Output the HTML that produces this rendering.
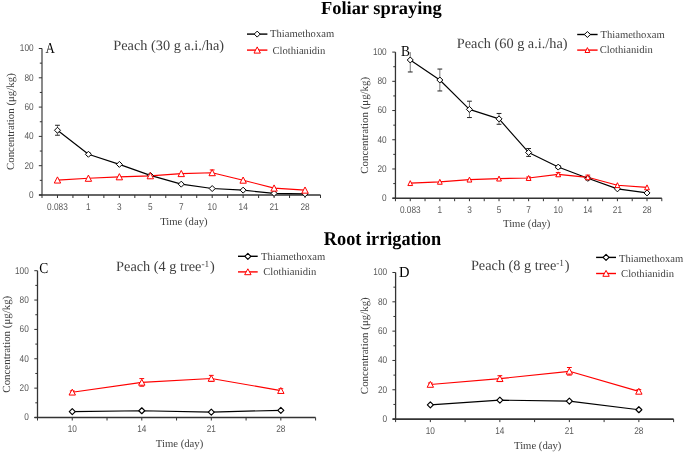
<!DOCTYPE html>
<html><head><meta charset="utf-8"><style>
html,body{margin:0;padding:0;background:#fff;overflow:hidden;}
svg{display:block;will-change:transform;text-rendering:geometricPrecision;}
</style></head><body>
<svg width="685" height="454" viewBox="0 0 685 454">
<rect width="685" height="454" fill="#fff"/>
<text x="321.0" y="14.2" font-family='"Liberation Serif", serif' font-weight="bold" font-size="18.4" fill="#000">Foliar spraying</text>
<text transform="translate(323.8,244.7) scale(1.005,1.07)" font-family='"Liberation Serif", serif' font-weight="bold" font-size="18.2" fill="#000">Root irrigation</text>
<line x1="38.80" y1="195.00" x2="42.00" y2="195.00" stroke="#333" stroke-width="1"/>
<text x="33.60" y="197.90" text-anchor="end" font-family='"Liberation Sans", sans-serif' font-size="9.8" textLength="4.60" lengthAdjust="spacingAndGlyphs" fill="#595959">0</text>
<line x1="39.80" y1="180.35" x2="42.00" y2="180.35" stroke="#333" stroke-width="1"/>
<line x1="38.80" y1="165.70" x2="42.00" y2="165.70" stroke="#333" stroke-width="1"/>
<text x="33.60" y="168.60" text-anchor="end" font-family='"Liberation Sans", sans-serif' font-size="9.8" textLength="9.20" lengthAdjust="spacingAndGlyphs" fill="#595959">20</text>
<line x1="39.80" y1="151.05" x2="42.00" y2="151.05" stroke="#333" stroke-width="1"/>
<line x1="38.80" y1="136.40" x2="42.00" y2="136.40" stroke="#333" stroke-width="1"/>
<text x="33.60" y="139.30" text-anchor="end" font-family='"Liberation Sans", sans-serif' font-size="9.8" textLength="9.20" lengthAdjust="spacingAndGlyphs" fill="#595959">40</text>
<line x1="39.80" y1="121.75" x2="42.00" y2="121.75" stroke="#333" stroke-width="1"/>
<line x1="38.80" y1="107.10" x2="42.00" y2="107.10" stroke="#333" stroke-width="1"/>
<text x="33.60" y="110.00" text-anchor="end" font-family='"Liberation Sans", sans-serif' font-size="9.8" textLength="9.20" lengthAdjust="spacingAndGlyphs" fill="#595959">60</text>
<line x1="39.80" y1="92.45" x2="42.00" y2="92.45" stroke="#333" stroke-width="1"/>
<line x1="38.80" y1="77.80" x2="42.00" y2="77.80" stroke="#333" stroke-width="1"/>
<text x="33.60" y="80.70" text-anchor="end" font-family='"Liberation Sans", sans-serif' font-size="9.8" textLength="9.20" lengthAdjust="spacingAndGlyphs" fill="#595959">80</text>
<line x1="39.80" y1="63.15" x2="42.00" y2="63.15" stroke="#333" stroke-width="1"/>
<line x1="38.80" y1="48.50" x2="42.00" y2="48.50" stroke="#333" stroke-width="1"/>
<text x="33.60" y="51.40" text-anchor="end" font-family='"Liberation Sans", sans-serif' font-size="9.8" textLength="13.80" lengthAdjust="spacingAndGlyphs" fill="#595959">100</text>
<line x1="42.00" y1="195.00" x2="42.00" y2="198.00" stroke="#333" stroke-width="1"/>
<line x1="57.47" y1="195.00" x2="57.47" y2="198.00" stroke="#333" stroke-width="1"/>
<line x1="72.94" y1="195.00" x2="72.94" y2="198.00" stroke="#333" stroke-width="1"/>
<line x1="88.42" y1="195.00" x2="88.42" y2="198.00" stroke="#333" stroke-width="1"/>
<line x1="103.89" y1="195.00" x2="103.89" y2="198.00" stroke="#333" stroke-width="1"/>
<line x1="119.36" y1="195.00" x2="119.36" y2="198.00" stroke="#333" stroke-width="1"/>
<line x1="134.83" y1="195.00" x2="134.83" y2="198.00" stroke="#333" stroke-width="1"/>
<line x1="150.31" y1="195.00" x2="150.31" y2="198.00" stroke="#333" stroke-width="1"/>
<line x1="165.78" y1="195.00" x2="165.78" y2="198.00" stroke="#333" stroke-width="1"/>
<line x1="181.25" y1="195.00" x2="181.25" y2="198.00" stroke="#333" stroke-width="1"/>
<line x1="196.72" y1="195.00" x2="196.72" y2="198.00" stroke="#333" stroke-width="1"/>
<line x1="212.19" y1="195.00" x2="212.19" y2="198.00" stroke="#333" stroke-width="1"/>
<line x1="227.67" y1="195.00" x2="227.67" y2="198.00" stroke="#333" stroke-width="1"/>
<line x1="243.14" y1="195.00" x2="243.14" y2="198.00" stroke="#333" stroke-width="1"/>
<line x1="258.61" y1="195.00" x2="258.61" y2="198.00" stroke="#333" stroke-width="1"/>
<line x1="274.08" y1="195.00" x2="274.08" y2="198.00" stroke="#333" stroke-width="1"/>
<line x1="289.56" y1="195.00" x2="289.56" y2="198.00" stroke="#333" stroke-width="1"/>
<line x1="305.03" y1="195.00" x2="305.03" y2="198.00" stroke="#333" stroke-width="1"/>
<line x1="320.50" y1="195.00" x2="320.50" y2="198.00" stroke="#333" stroke-width="1"/>
<line x1="42.00" y1="48.50" x2="42.00" y2="195.00" stroke="#333" stroke-width="1.15"/>
<line x1="39.00" y1="195.00" x2="320.50" y2="195.00" stroke="#333" stroke-width="1.6"/>
<text x="57.47" y="209.90" text-anchor="middle" font-family='"Liberation Sans", sans-serif' font-size="9.8" textLength="20.74" lengthAdjust="spacingAndGlyphs" fill="#595959">0.083</text>
<text x="88.42" y="209.90" text-anchor="middle" font-family='"Liberation Sans", sans-serif' font-size="9.8" textLength="4.60" lengthAdjust="spacingAndGlyphs" fill="#595959">1</text>
<text x="119.36" y="209.90" text-anchor="middle" font-family='"Liberation Sans", sans-serif' font-size="9.8" textLength="4.60" lengthAdjust="spacingAndGlyphs" fill="#595959">3</text>
<text x="150.31" y="209.90" text-anchor="middle" font-family='"Liberation Sans", sans-serif' font-size="9.8" textLength="4.60" lengthAdjust="spacingAndGlyphs" fill="#595959">5</text>
<text x="181.25" y="209.90" text-anchor="middle" font-family='"Liberation Sans", sans-serif' font-size="9.8" textLength="4.60" lengthAdjust="spacingAndGlyphs" fill="#595959">7</text>
<text x="212.19" y="209.90" text-anchor="middle" font-family='"Liberation Sans", sans-serif' font-size="9.8" textLength="9.20" lengthAdjust="spacingAndGlyphs" fill="#595959">10</text>
<text x="243.14" y="209.90" text-anchor="middle" font-family='"Liberation Sans", sans-serif' font-size="9.8" textLength="9.20" lengthAdjust="spacingAndGlyphs" fill="#595959">14</text>
<text x="274.08" y="209.90" text-anchor="middle" font-family='"Liberation Sans", sans-serif' font-size="9.8" textLength="9.20" lengthAdjust="spacingAndGlyphs" fill="#595959">21</text>
<text x="305.03" y="209.90" text-anchor="middle" font-family='"Liberation Sans", sans-serif' font-size="9.8" textLength="9.20" lengthAdjust="spacingAndGlyphs" fill="#595959">28</text>
<path d="M57.47 125.27V135.23" stroke="#222" stroke-opacity="0.6" stroke-width="1" fill="none"/>
<path d="M55.07 125.27H59.87" stroke="#222" stroke-width="1" fill="none"/>
<path d="M55.07 135.23H59.87" stroke="#222" stroke-width="1" fill="none"/>
<path d="M88.42 153.10V155.44" stroke="#222" stroke-opacity="0.6" stroke-width="1" fill="none"/>
<path d="M86.02 153.10H90.82" stroke="#222" stroke-width="1" fill="none"/>
<path d="M86.02 155.44H90.82" stroke="#222" stroke-width="1" fill="none"/>
<path d="M212.19 169.95V175.52" stroke="#f00" stroke-opacity="0.6" stroke-width="1" fill="none"/>
<path d="M209.79 169.95H214.59" stroke="#f00" stroke-width="1" fill="none"/>
<path d="M209.79 175.52H214.59" stroke="#f00" stroke-width="1" fill="none"/>
<polyline points="57.47,130.25 88.42,154.27 119.36,164.38 150.31,175.37 181.25,184.16 212.19,188.55 243.14,190.17 274.08,193.39 305.03,193.83" fill="none" stroke="#000" stroke-width="1.15" stroke-linejoin="round"/>
<polyline points="57.47,180.06 88.42,178.30 119.36,176.83 150.31,175.81 181.25,173.61 212.19,172.73 243.14,180.20 274.08,188.11 305.03,190.17" fill="none" stroke="#f00" stroke-width="1.15" stroke-linejoin="round"/>
<path d="M57.47 127.25L60.47 130.25L57.47 133.25L54.47 130.25Z" fill="#fff" stroke="#000" stroke-width="1.0" stroke-linejoin="round"/>
<path d="M88.42 151.27L91.42 154.27L88.42 157.27L85.42 154.27Z" fill="#fff" stroke="#000" stroke-width="1.0" stroke-linejoin="round"/>
<path d="M119.36 161.38L122.36 164.38L119.36 167.38L116.36 164.38Z" fill="#fff" stroke="#000" stroke-width="1.0" stroke-linejoin="round"/>
<path d="M150.31 172.37L153.31 175.37L150.31 178.37L147.31 175.37Z" fill="#fff" stroke="#000" stroke-width="1.0" stroke-linejoin="round"/>
<path d="M181.25 181.16L184.25 184.16L181.25 187.16L178.25 184.16Z" fill="#fff" stroke="#000" stroke-width="1.0" stroke-linejoin="round"/>
<path d="M212.19 185.55L215.19 188.55L212.19 191.55L209.19 188.55Z" fill="#fff" stroke="#000" stroke-width="1.0" stroke-linejoin="round"/>
<path d="M243.14 187.17L246.14 190.17L243.14 193.17L240.14 190.17Z" fill="#fff" stroke="#000" stroke-width="1.0" stroke-linejoin="round"/>
<path d="M274.08 190.39L277.08 193.39L274.08 196.39L271.08 193.39Z" fill="#fff" stroke="#000" stroke-width="1.0" stroke-linejoin="round"/>
<path d="M305.03 190.83L308.03 193.83L305.03 196.83L302.03 193.83Z" fill="#fff" stroke="#000" stroke-width="1.0" stroke-linejoin="round"/>
<path d="M57.47 176.86L60.67 183.06L54.27 183.06Z" fill="#fff" stroke="#f00" stroke-width="1.0" stroke-linejoin="round"/>
<path d="M88.42 175.10L91.62 181.30L85.22 181.30Z" fill="#fff" stroke="#f00" stroke-width="1.0" stroke-linejoin="round"/>
<path d="M119.36 173.63L122.56 179.83L116.16 179.83Z" fill="#fff" stroke="#f00" stroke-width="1.0" stroke-linejoin="round"/>
<path d="M150.31 172.61L153.51 178.81L147.11 178.81Z" fill="#fff" stroke="#f00" stroke-width="1.0" stroke-linejoin="round"/>
<path d="M181.25 170.41L184.45 176.61L178.05 176.61Z" fill="#fff" stroke="#f00" stroke-width="1.0" stroke-linejoin="round"/>
<path d="M212.19 169.53L215.39 175.73L208.99 175.73Z" fill="#fff" stroke="#f00" stroke-width="1.0" stroke-linejoin="round"/>
<path d="M243.14 177.00L246.34 183.20L239.94 183.20Z" fill="#fff" stroke="#f00" stroke-width="1.0" stroke-linejoin="round"/>
<path d="M274.08 184.91L277.28 191.11L270.88 191.11Z" fill="#fff" stroke="#f00" stroke-width="1.0" stroke-linejoin="round"/>
<path d="M305.03 186.97L308.23 193.17L301.83 193.17Z" fill="#fff" stroke="#f00" stroke-width="1.0" stroke-linejoin="round"/>
<text transform="translate(14.30,121.60) rotate(-90)" text-anchor="middle" font-family='"Liberation Serif", serif' font-size="10.9" fill="#404040">Concentration (μg/kg)</text>
<text x="160.20" y="225.20" font-family='"Liberation Serif", serif' font-size="10.7" fill="#404040">Time (day)</text>
<text x="113.30" y="49.60" font-family='"Liberation Serif", serif' font-size="14.3" fill="#404040">Peach (30 g a.i./ha)</text>
<text transform="translate(45.60,52.80) scale(0.84,1)" font-family='"Liberation Serif", serif' font-size="15.3" fill="#000">A</text>
<line x1="247" y1="34.1" x2="267.4" y2="34.1" stroke="#000" stroke-width="1.4"/>
<path d="M257.20 31.10L260.20 34.10L257.20 37.10L254.20 34.10Z" fill="#fff" stroke="#000" stroke-width="1.0" stroke-linejoin="round"/>
<line x1="247" y1="50.1" x2="267.4" y2="50.1" stroke="#f00" stroke-width="1.4"/>
<path d="M257.20 46.90L260.40 53.10L254.00 53.10Z" fill="#fff" stroke="#f00" stroke-width="1.0" stroke-linejoin="round"/>
<text x="270.0" y="37.3" font-family='"Liberation Serif", serif' font-size="10.6" fill="#404040">Thiamethoxam</text>
<text x="272.4" y="53.8" font-family='"Liberation Serif", serif' font-size="10.6" fill="#404040">Clothianidin</text>
<line x1="392.25" y1="198.20" x2="395.45" y2="198.20" stroke="#333" stroke-width="1"/>
<text x="386.70" y="201.10" text-anchor="end" font-family='"Liberation Sans", sans-serif' font-size="9.8" textLength="4.60" lengthAdjust="spacingAndGlyphs" fill="#595959">0</text>
<line x1="393.25" y1="183.59" x2="395.45" y2="183.59" stroke="#333" stroke-width="1"/>
<line x1="392.25" y1="168.98" x2="395.45" y2="168.98" stroke="#333" stroke-width="1"/>
<text x="386.70" y="171.88" text-anchor="end" font-family='"Liberation Sans", sans-serif' font-size="9.8" textLength="9.20" lengthAdjust="spacingAndGlyphs" fill="#595959">20</text>
<line x1="393.25" y1="154.37" x2="395.45" y2="154.37" stroke="#333" stroke-width="1"/>
<line x1="392.25" y1="139.76" x2="395.45" y2="139.76" stroke="#333" stroke-width="1"/>
<text x="386.70" y="142.66" text-anchor="end" font-family='"Liberation Sans", sans-serif' font-size="9.8" textLength="9.20" lengthAdjust="spacingAndGlyphs" fill="#595959">40</text>
<line x1="393.25" y1="125.15" x2="395.45" y2="125.15" stroke="#333" stroke-width="1"/>
<line x1="392.25" y1="110.54" x2="395.45" y2="110.54" stroke="#333" stroke-width="1"/>
<text x="386.70" y="113.44" text-anchor="end" font-family='"Liberation Sans", sans-serif' font-size="9.8" textLength="9.20" lengthAdjust="spacingAndGlyphs" fill="#595959">60</text>
<line x1="393.25" y1="95.93" x2="395.45" y2="95.93" stroke="#333" stroke-width="1"/>
<line x1="392.25" y1="81.32" x2="395.45" y2="81.32" stroke="#333" stroke-width="1"/>
<text x="386.70" y="84.22" text-anchor="end" font-family='"Liberation Sans", sans-serif' font-size="9.8" textLength="9.20" lengthAdjust="spacingAndGlyphs" fill="#595959">80</text>
<line x1="393.25" y1="66.71" x2="395.45" y2="66.71" stroke="#333" stroke-width="1"/>
<line x1="392.25" y1="52.10" x2="395.45" y2="52.10" stroke="#333" stroke-width="1"/>
<text x="386.70" y="55.00" text-anchor="end" font-family='"Liberation Sans", sans-serif' font-size="9.8" textLength="13.80" lengthAdjust="spacingAndGlyphs" fill="#595959">100</text>
<line x1="395.45" y1="198.20" x2="395.45" y2="201.20" stroke="#333" stroke-width="1"/>
<line x1="410.25" y1="198.20" x2="410.25" y2="201.20" stroke="#333" stroke-width="1"/>
<line x1="425.04" y1="198.20" x2="425.04" y2="201.20" stroke="#333" stroke-width="1"/>
<line x1="439.84" y1="198.20" x2="439.84" y2="201.20" stroke="#333" stroke-width="1"/>
<line x1="454.64" y1="198.20" x2="454.64" y2="201.20" stroke="#333" stroke-width="1"/>
<line x1="469.44" y1="198.20" x2="469.44" y2="201.20" stroke="#333" stroke-width="1"/>
<line x1="484.23" y1="198.20" x2="484.23" y2="201.20" stroke="#333" stroke-width="1"/>
<line x1="499.03" y1="198.20" x2="499.03" y2="201.20" stroke="#333" stroke-width="1"/>
<line x1="513.83" y1="198.20" x2="513.83" y2="201.20" stroke="#333" stroke-width="1"/>
<line x1="528.62" y1="198.20" x2="528.62" y2="201.20" stroke="#333" stroke-width="1"/>
<line x1="543.42" y1="198.20" x2="543.42" y2="201.20" stroke="#333" stroke-width="1"/>
<line x1="558.22" y1="198.20" x2="558.22" y2="201.20" stroke="#333" stroke-width="1"/>
<line x1="573.02" y1="198.20" x2="573.02" y2="201.20" stroke="#333" stroke-width="1"/>
<line x1="587.81" y1="198.20" x2="587.81" y2="201.20" stroke="#333" stroke-width="1"/>
<line x1="602.61" y1="198.20" x2="602.61" y2="201.20" stroke="#333" stroke-width="1"/>
<line x1="617.41" y1="198.20" x2="617.41" y2="201.20" stroke="#333" stroke-width="1"/>
<line x1="632.21" y1="198.20" x2="632.21" y2="201.20" stroke="#333" stroke-width="1"/>
<line x1="647.00" y1="198.20" x2="647.00" y2="201.20" stroke="#333" stroke-width="1"/>
<line x1="661.80" y1="198.20" x2="661.80" y2="201.20" stroke="#333" stroke-width="1"/>
<line x1="395.45" y1="52.10" x2="395.45" y2="198.20" stroke="#333" stroke-width="1.3"/>
<line x1="392.45" y1="198.20" x2="661.80" y2="198.20" stroke="#333" stroke-width="1.6"/>
<text x="410.25" y="213.10" text-anchor="middle" font-family='"Liberation Sans", sans-serif' font-size="9.8" textLength="20.74" lengthAdjust="spacingAndGlyphs" fill="#595959">0.083</text>
<text x="439.84" y="213.10" text-anchor="middle" font-family='"Liberation Sans", sans-serif' font-size="9.8" textLength="4.60" lengthAdjust="spacingAndGlyphs" fill="#595959">1</text>
<text x="469.44" y="213.10" text-anchor="middle" font-family='"Liberation Sans", sans-serif' font-size="9.8" textLength="4.60" lengthAdjust="spacingAndGlyphs" fill="#595959">3</text>
<text x="499.03" y="213.10" text-anchor="middle" font-family='"Liberation Sans", sans-serif' font-size="9.8" textLength="4.60" lengthAdjust="spacingAndGlyphs" fill="#595959">5</text>
<text x="528.62" y="213.10" text-anchor="middle" font-family='"Liberation Sans", sans-serif' font-size="9.8" textLength="4.60" lengthAdjust="spacingAndGlyphs" fill="#595959">7</text>
<text x="558.22" y="213.10" text-anchor="middle" font-family='"Liberation Sans", sans-serif' font-size="9.8" textLength="9.20" lengthAdjust="spacingAndGlyphs" fill="#595959">10</text>
<text x="587.81" y="213.10" text-anchor="middle" font-family='"Liberation Sans", sans-serif' font-size="9.8" textLength="9.20" lengthAdjust="spacingAndGlyphs" fill="#595959">14</text>
<text x="617.41" y="213.10" text-anchor="middle" font-family='"Liberation Sans", sans-serif' font-size="9.8" textLength="9.20" lengthAdjust="spacingAndGlyphs" fill="#595959">21</text>
<text x="647.00" y="213.10" text-anchor="middle" font-family='"Liberation Sans", sans-serif' font-size="9.8" textLength="9.20" lengthAdjust="spacingAndGlyphs" fill="#595959">28</text>
<path d="M410.25 52.10V71.97" stroke="#222" stroke-opacity="0.6" stroke-width="1" fill="none"/>
<path d="M407.85 71.97H412.65" stroke="#222" stroke-width="1" fill="none"/>
<path d="M439.84 69.05V90.96" stroke="#222" stroke-opacity="0.6" stroke-width="1" fill="none"/>
<path d="M437.44 69.05H442.24" stroke="#222" stroke-width="1" fill="none"/>
<path d="M437.44 90.96H442.24" stroke="#222" stroke-width="1" fill="none"/>
<path d="M469.44 101.19V117.55" stroke="#222" stroke-opacity="0.6" stroke-width="1" fill="none"/>
<path d="M467.04 101.19H471.84" stroke="#222" stroke-width="1" fill="none"/>
<path d="M467.04 117.55H471.84" stroke="#222" stroke-width="1" fill="none"/>
<path d="M499.03 113.46V124.27" stroke="#222" stroke-opacity="0.6" stroke-width="1" fill="none"/>
<path d="M496.63 113.46H501.43" stroke="#222" stroke-width="1" fill="none"/>
<path d="M496.63 124.27H501.43" stroke="#222" stroke-width="1" fill="none"/>
<path d="M528.62 148.53V156.42" stroke="#222" stroke-opacity="0.6" stroke-width="1" fill="none"/>
<path d="M526.23 148.53H531.02" stroke="#222" stroke-width="1" fill="none"/>
<path d="M526.23 156.42H531.02" stroke="#222" stroke-width="1" fill="none"/>
<path d="M558.22 165.62V168.54" stroke="#222" stroke-opacity="0.6" stroke-width="1" fill="none"/>
<path d="M555.82 165.62H560.62" stroke="#222" stroke-width="1" fill="none"/>
<path d="M555.82 168.54H560.62" stroke="#222" stroke-width="1" fill="none"/>
<path d="M587.81 176.87V179.79" stroke="#222" stroke-opacity="0.6" stroke-width="1" fill="none"/>
<path d="M585.41 176.87H590.21" stroke="#222" stroke-width="1" fill="none"/>
<path d="M585.41 179.79H590.21" stroke="#222" stroke-width="1" fill="none"/>
<path d="M528.62 177.02V179.06" stroke="#f00" stroke-opacity="0.6" stroke-width="1" fill="none"/>
<path d="M526.23 177.02H531.02" stroke="#f00" stroke-width="1" fill="none"/>
<path d="M526.23 179.06H531.02" stroke="#f00" stroke-width="1" fill="none"/>
<path d="M558.22 172.63V176.14" stroke="#f00" stroke-opacity="0.6" stroke-width="1" fill="none"/>
<path d="M555.82 172.63H560.62" stroke="#f00" stroke-width="1" fill="none"/>
<path d="M555.82 176.14H560.62" stroke="#f00" stroke-width="1" fill="none"/>
<path d="M587.81 175.12V179.50" stroke="#f00" stroke-opacity="0.6" stroke-width="1" fill="none"/>
<path d="M585.41 175.12H590.21" stroke="#f00" stroke-width="1" fill="none"/>
<path d="M585.41 179.50H590.21" stroke="#f00" stroke-width="1" fill="none"/>
<polyline points="410.25,59.99 439.84,80.01 469.44,109.37 499.03,118.87 528.62,152.47 558.22,167.08 587.81,178.33 617.41,188.85 647.00,192.94" fill="none" stroke="#000" stroke-width="1.15" stroke-linejoin="round"/>
<polyline points="410.25,183.15 439.84,181.84 469.44,179.65 499.03,178.62 528.62,178.04 558.22,174.39 587.81,177.31 617.41,185.20 647.00,187.39" fill="none" stroke="#f00" stroke-width="1.15" stroke-linejoin="round"/>
<path d="M410.25 56.99L413.25 59.99L410.25 62.99L407.25 59.99Z" fill="#fff" stroke="#000" stroke-width="1.0" stroke-linejoin="round"/>
<path d="M439.84 77.01L442.84 80.01L439.84 83.01L436.84 80.01Z" fill="#fff" stroke="#000" stroke-width="1.0" stroke-linejoin="round"/>
<path d="M469.44 106.37L472.44 109.37L469.44 112.37L466.44 109.37Z" fill="#fff" stroke="#000" stroke-width="1.0" stroke-linejoin="round"/>
<path d="M499.03 115.87L502.03 118.87L499.03 121.87L496.03 118.87Z" fill="#fff" stroke="#000" stroke-width="1.0" stroke-linejoin="round"/>
<path d="M528.62 149.47L531.62 152.47L528.62 155.47L525.62 152.47Z" fill="#fff" stroke="#000" stroke-width="1.0" stroke-linejoin="round"/>
<path d="M558.22 164.08L561.22 167.08L558.22 170.08L555.22 167.08Z" fill="#fff" stroke="#000" stroke-width="1.0" stroke-linejoin="round"/>
<path d="M587.81 175.33L590.81 178.33L587.81 181.33L584.81 178.33Z" fill="#fff" stroke="#000" stroke-width="1.0" stroke-linejoin="round"/>
<path d="M617.41 185.85L620.41 188.85L617.41 191.85L614.41 188.85Z" fill="#fff" stroke="#000" stroke-width="1.0" stroke-linejoin="round"/>
<path d="M647.00 189.94L650.00 192.94L647.00 195.94L644.00 192.94Z" fill="#fff" stroke="#000" stroke-width="1.0" stroke-linejoin="round"/>
<path d="M410.25 180.65L412.65 185.55L407.85 185.55Z" fill="#fff" stroke="#f00" stroke-width="1.0" stroke-linejoin="round"/>
<path d="M439.84 179.34L442.24 184.24L437.44 184.24Z" fill="#fff" stroke="#f00" stroke-width="1.0" stroke-linejoin="round"/>
<path d="M469.44 177.15L471.84 182.05L467.04 182.05Z" fill="#fff" stroke="#f00" stroke-width="1.0" stroke-linejoin="round"/>
<path d="M499.03 176.12L501.43 181.02L496.63 181.02Z" fill="#fff" stroke="#f00" stroke-width="1.0" stroke-linejoin="round"/>
<path d="M528.62 175.54L531.02 180.44L526.23 180.44Z" fill="#fff" stroke="#f00" stroke-width="1.0" stroke-linejoin="round"/>
<path d="M558.22 171.89L560.62 176.79L555.82 176.79Z" fill="#fff" stroke="#f00" stroke-width="1.0" stroke-linejoin="round"/>
<path d="M587.81 174.81L590.21 179.71L585.41 179.71Z" fill="#fff" stroke="#f00" stroke-width="1.0" stroke-linejoin="round"/>
<path d="M617.41 182.70L619.81 187.60L615.01 187.60Z" fill="#fff" stroke="#f00" stroke-width="1.0" stroke-linejoin="round"/>
<path d="M647.00 184.89L649.40 189.79L644.60 189.79Z" fill="#fff" stroke="#f00" stroke-width="1.0" stroke-linejoin="round"/>
<text transform="translate(367.80,125.30) rotate(-90)" text-anchor="middle" font-family='"Liberation Serif", serif' font-size="10.9" fill="#404040">Concentration (μg/kg)</text>
<text x="503.00" y="226.60" font-family='"Liberation Serif", serif' font-size="10.7" fill="#404040">Time (day)</text>
<text x="456.80" y="48.30" font-family='"Liberation Serif", serif' font-size="14.3" fill="#404040">Peach (60 g a.i./ha)</text>
<text transform="translate(400.90,55.90) scale(0.88,1)" font-family='"Liberation Serif", serif' font-size="15.3" fill="#000">B</text>
<line x1="577.2" y1="34.5" x2="597.6" y2="34.5" stroke="#000" stroke-width="1.4"/>
<path d="M587.40 31.50L590.40 34.50L587.40 37.50L584.40 34.50Z" fill="#fff" stroke="#000" stroke-width="1.0" stroke-linejoin="round"/>
<line x1="577.2" y1="50.1" x2="597.6" y2="50.1" stroke="#f00" stroke-width="1.4"/>
<path d="M587.40 47.60L589.80 52.50L585.00 52.50Z" fill="#fff" stroke="#f00" stroke-width="1.0" stroke-linejoin="round"/>
<text x="600.5" y="37.8" font-family='"Liberation Serif", serif' font-size="10.6" fill="#404040">Thiamethoxam</text>
<text x="599.8" y="53.0" font-family='"Liberation Serif", serif' font-size="10.6" fill="#404040">Clothianidin</text>
<line x1="34.30" y1="417.50" x2="37.50" y2="417.50" stroke="#333" stroke-width="1"/>
<text x="28.80" y="420.40" text-anchor="end" font-family='"Liberation Sans", sans-serif' font-size="9.8" textLength="4.60" lengthAdjust="spacingAndGlyphs" fill="#595959">0</text>
<line x1="35.30" y1="402.82" x2="37.50" y2="402.82" stroke="#333" stroke-width="1"/>
<line x1="34.30" y1="388.14" x2="37.50" y2="388.14" stroke="#333" stroke-width="1"/>
<text x="28.80" y="391.04" text-anchor="end" font-family='"Liberation Sans", sans-serif' font-size="9.8" textLength="9.20" lengthAdjust="spacingAndGlyphs" fill="#595959">20</text>
<line x1="35.30" y1="373.46" x2="37.50" y2="373.46" stroke="#333" stroke-width="1"/>
<line x1="34.30" y1="358.78" x2="37.50" y2="358.78" stroke="#333" stroke-width="1"/>
<text x="28.80" y="361.68" text-anchor="end" font-family='"Liberation Sans", sans-serif' font-size="9.8" textLength="9.20" lengthAdjust="spacingAndGlyphs" fill="#595959">40</text>
<line x1="35.30" y1="344.10" x2="37.50" y2="344.10" stroke="#333" stroke-width="1"/>
<line x1="34.30" y1="329.42" x2="37.50" y2="329.42" stroke="#333" stroke-width="1"/>
<text x="28.80" y="332.32" text-anchor="end" font-family='"Liberation Sans", sans-serif' font-size="9.8" textLength="9.20" lengthAdjust="spacingAndGlyphs" fill="#595959">60</text>
<line x1="35.30" y1="314.74" x2="37.50" y2="314.74" stroke="#333" stroke-width="1"/>
<line x1="34.30" y1="300.06" x2="37.50" y2="300.06" stroke="#333" stroke-width="1"/>
<text x="28.80" y="302.96" text-anchor="end" font-family='"Liberation Sans", sans-serif' font-size="9.8" textLength="9.20" lengthAdjust="spacingAndGlyphs" fill="#595959">80</text>
<line x1="35.30" y1="285.38" x2="37.50" y2="285.38" stroke="#333" stroke-width="1"/>
<line x1="34.30" y1="270.70" x2="37.50" y2="270.70" stroke="#333" stroke-width="1"/>
<text x="28.80" y="273.60" text-anchor="end" font-family='"Liberation Sans", sans-serif' font-size="9.8" textLength="13.80" lengthAdjust="spacingAndGlyphs" fill="#595959">100</text>
<line x1="37.50" y1="417.50" x2="37.50" y2="420.50" stroke="#333" stroke-width="1"/>
<line x1="72.26" y1="417.50" x2="72.26" y2="420.50" stroke="#333" stroke-width="1"/>
<line x1="107.03" y1="417.50" x2="107.03" y2="420.50" stroke="#333" stroke-width="1"/>
<line x1="141.79" y1="417.50" x2="141.79" y2="420.50" stroke="#333" stroke-width="1"/>
<line x1="176.55" y1="417.50" x2="176.55" y2="420.50" stroke="#333" stroke-width="1"/>
<line x1="211.31" y1="417.50" x2="211.31" y2="420.50" stroke="#333" stroke-width="1"/>
<line x1="246.08" y1="417.50" x2="246.08" y2="420.50" stroke="#333" stroke-width="1"/>
<line x1="280.84" y1="417.50" x2="280.84" y2="420.50" stroke="#333" stroke-width="1"/>
<line x1="315.60" y1="417.50" x2="315.60" y2="420.50" stroke="#333" stroke-width="1"/>
<line x1="37.50" y1="270.70" x2="37.50" y2="417.50" stroke="#333" stroke-width="1.3"/>
<line x1="34.50" y1="417.50" x2="315.60" y2="417.50" stroke="#333" stroke-width="1.6"/>
<text x="72.26" y="432.00" text-anchor="middle" font-family='"Liberation Sans", sans-serif' font-size="9.8" textLength="9.20" lengthAdjust="spacingAndGlyphs" fill="#595959">10</text>
<text x="141.79" y="432.00" text-anchor="middle" font-family='"Liberation Sans", sans-serif' font-size="9.8" textLength="9.20" lengthAdjust="spacingAndGlyphs" fill="#595959">14</text>
<text x="211.31" y="432.00" text-anchor="middle" font-family='"Liberation Sans", sans-serif' font-size="9.8" textLength="9.20" lengthAdjust="spacingAndGlyphs" fill="#595959">21</text>
<text x="280.84" y="432.00" text-anchor="middle" font-family='"Liberation Sans", sans-serif' font-size="9.8" textLength="9.20" lengthAdjust="spacingAndGlyphs" fill="#595959">28</text>
<path d="M72.26 390.93V393.57" stroke="#f00" stroke-opacity="0.6" stroke-width="1" fill="none"/>
<path d="M69.86 390.93H74.66" stroke="#f00" stroke-width="1" fill="none"/>
<path d="M69.86 393.57H74.66" stroke="#f00" stroke-width="1" fill="none"/>
<path d="M141.79 378.60V386.23" stroke="#f00" stroke-opacity="0.6" stroke-width="1" fill="none"/>
<path d="M139.39 378.60H144.19" stroke="#f00" stroke-width="1" fill="none"/>
<path d="M139.39 386.23H144.19" stroke="#f00" stroke-width="1" fill="none"/>
<path d="M211.31 375.37V381.53" stroke="#f00" stroke-opacity="0.6" stroke-width="1" fill="none"/>
<path d="M208.91 375.37H213.71" stroke="#f00" stroke-width="1" fill="none"/>
<path d="M208.91 381.53H213.71" stroke="#f00" stroke-width="1" fill="none"/>
<path d="M280.84 388.73V392.54" stroke="#f00" stroke-opacity="0.6" stroke-width="1" fill="none"/>
<path d="M278.44 388.73H283.24" stroke="#f00" stroke-width="1" fill="none"/>
<path d="M278.44 392.54H283.24" stroke="#f00" stroke-width="1" fill="none"/>
<polyline points="72.26,411.63 141.79,410.75 211.31,412.07 280.84,410.31" fill="none" stroke="#000" stroke-width="1.15" stroke-linejoin="round"/>
<polyline points="72.26,392.25 141.79,382.41 211.31,378.45 280.84,390.64" fill="none" stroke="#f00" stroke-width="1.15" stroke-linejoin="round"/>
<path d="M72.26 408.63L75.26 411.63L72.26 414.63L69.26 411.63Z" fill="#fff" stroke="#000" stroke-width="1.15" stroke-linejoin="round"/>
<path d="M141.79 407.75L144.79 410.75L141.79 413.75L138.79 410.75Z" fill="#fff" stroke="#000" stroke-width="1.15" stroke-linejoin="round"/>
<path d="M211.31 409.07L214.31 412.07L211.31 415.07L208.31 412.07Z" fill="#fff" stroke="#000" stroke-width="1.15" stroke-linejoin="round"/>
<path d="M280.84 407.31L283.84 410.31L280.84 413.31L277.84 410.31Z" fill="#fff" stroke="#000" stroke-width="1.15" stroke-linejoin="round"/>
<path d="M72.26 389.15L75.46 395.05L69.06 395.05Z" fill="#fff" stroke="#f00" stroke-width="1.0" stroke-linejoin="round"/>
<path d="M141.79 379.31L144.99 385.21L138.59 385.21Z" fill="#fff" stroke="#f00" stroke-width="1.0" stroke-linejoin="round"/>
<path d="M211.31 375.35L214.51 381.25L208.11 381.25Z" fill="#fff" stroke="#f00" stroke-width="1.0" stroke-linejoin="round"/>
<path d="M280.84 387.54L284.04 393.44L277.64 393.44Z" fill="#fff" stroke="#f00" stroke-width="1.0" stroke-linejoin="round"/>
<text transform="translate(10.20,344.20) rotate(-90)" text-anchor="middle" font-family='"Liberation Serif", serif' font-size="10.9" fill="#404040">Concentration (μg/kg)</text>
<text x="155.80" y="447.10" font-family='"Liberation Serif", serif' font-size="10.7" fill="#404040">Time (day)</text>
<text x="116.10" y="271.40" font-family='"Liberation Serif", serif' font-size="14.3" fill="#404040">Peach (4 g tree<tspan font-size="9.3" dy="-4.4">-1</tspan><tspan dx="0.7" dy="4.4">)</tspan></text>
<text transform="translate(39.30,273.00) scale(0.88,1)" font-family='"Liberation Serif", serif' font-size="15.3" fill="#000">C</text>
<line x1="238" y1="256.3" x2="257.7" y2="256.3" stroke="#000" stroke-width="1.4"/>
<path d="M247.85 253.30L250.85 256.30L247.85 259.30L244.85 256.30Z" fill="#fff" stroke="#000" stroke-width="1.15" stroke-linejoin="round"/>
<line x1="238" y1="271.9" x2="257.7" y2="271.9" stroke="#f00" stroke-width="1.4"/>
<path d="M247.85 268.80L251.05 274.70L244.65 274.70Z" fill="#fff" stroke="#f00" stroke-width="1.0" stroke-linejoin="round"/>
<text x="261.0" y="259.8" font-family='"Liberation Serif", serif' font-size="10.6" fill="#404040">Thiamethoxam</text>
<text x="263.3" y="275.1" font-family='"Liberation Serif", serif' font-size="10.6" fill="#404040">Clothianidin</text>
<line x1="392.40" y1="419.10" x2="395.60" y2="419.10" stroke="#333" stroke-width="1"/>
<text x="387.10" y="422.00" text-anchor="end" font-family='"Liberation Sans", sans-serif' font-size="9.8" textLength="4.60" lengthAdjust="spacingAndGlyphs" fill="#595959">0</text>
<line x1="393.40" y1="404.44" x2="395.60" y2="404.44" stroke="#333" stroke-width="1"/>
<line x1="392.40" y1="389.78" x2="395.60" y2="389.78" stroke="#333" stroke-width="1"/>
<text x="387.10" y="392.68" text-anchor="end" font-family='"Liberation Sans", sans-serif' font-size="9.8" textLength="9.20" lengthAdjust="spacingAndGlyphs" fill="#595959">20</text>
<line x1="393.40" y1="375.12" x2="395.60" y2="375.12" stroke="#333" stroke-width="1"/>
<line x1="392.40" y1="360.46" x2="395.60" y2="360.46" stroke="#333" stroke-width="1"/>
<text x="387.10" y="363.36" text-anchor="end" font-family='"Liberation Sans", sans-serif' font-size="9.8" textLength="9.20" lengthAdjust="spacingAndGlyphs" fill="#595959">40</text>
<line x1="393.40" y1="345.80" x2="395.60" y2="345.80" stroke="#333" stroke-width="1"/>
<line x1="392.40" y1="331.14" x2="395.60" y2="331.14" stroke="#333" stroke-width="1"/>
<text x="387.10" y="334.04" text-anchor="end" font-family='"Liberation Sans", sans-serif' font-size="9.8" textLength="9.20" lengthAdjust="spacingAndGlyphs" fill="#595959">60</text>
<line x1="393.40" y1="316.48" x2="395.60" y2="316.48" stroke="#333" stroke-width="1"/>
<line x1="392.40" y1="301.82" x2="395.60" y2="301.82" stroke="#333" stroke-width="1"/>
<text x="387.10" y="304.72" text-anchor="end" font-family='"Liberation Sans", sans-serif' font-size="9.8" textLength="9.20" lengthAdjust="spacingAndGlyphs" fill="#595959">80</text>
<line x1="393.40" y1="287.16" x2="395.60" y2="287.16" stroke="#333" stroke-width="1"/>
<line x1="392.40" y1="272.50" x2="395.60" y2="272.50" stroke="#333" stroke-width="1"/>
<text x="387.10" y="275.40" text-anchor="end" font-family='"Liberation Sans", sans-serif' font-size="9.8" textLength="13.80" lengthAdjust="spacingAndGlyphs" fill="#595959">100</text>
<line x1="395.60" y1="419.10" x2="395.60" y2="422.10" stroke="#333" stroke-width="1"/>
<line x1="430.35" y1="419.10" x2="430.35" y2="422.10" stroke="#333" stroke-width="1"/>
<line x1="465.10" y1="419.10" x2="465.10" y2="422.10" stroke="#333" stroke-width="1"/>
<line x1="499.85" y1="419.10" x2="499.85" y2="422.10" stroke="#333" stroke-width="1"/>
<line x1="534.60" y1="419.10" x2="534.60" y2="422.10" stroke="#333" stroke-width="1"/>
<line x1="569.35" y1="419.10" x2="569.35" y2="422.10" stroke="#333" stroke-width="1"/>
<line x1="604.10" y1="419.10" x2="604.10" y2="422.10" stroke="#333" stroke-width="1"/>
<line x1="638.85" y1="419.10" x2="638.85" y2="422.10" stroke="#333" stroke-width="1"/>
<line x1="673.60" y1="419.10" x2="673.60" y2="422.10" stroke="#333" stroke-width="1"/>
<line x1="395.60" y1="272.50" x2="395.60" y2="419.10" stroke="#333" stroke-width="1.3"/>
<line x1="392.60" y1="419.10" x2="673.60" y2="419.10" stroke="#333" stroke-width="1.6"/>
<text x="430.35" y="434.00" text-anchor="middle" font-family='"Liberation Sans", sans-serif' font-size="9.8" textLength="9.20" lengthAdjust="spacingAndGlyphs" fill="#595959">10</text>
<text x="499.85" y="434.00" text-anchor="middle" font-family='"Liberation Sans", sans-serif' font-size="9.8" textLength="9.20" lengthAdjust="spacingAndGlyphs" fill="#595959">14</text>
<text x="569.35" y="434.00" text-anchor="middle" font-family='"Liberation Sans", sans-serif' font-size="9.8" textLength="9.20" lengthAdjust="spacingAndGlyphs" fill="#595959">21</text>
<text x="638.85" y="434.00" text-anchor="middle" font-family='"Liberation Sans", sans-serif' font-size="9.8" textLength="9.20" lengthAdjust="spacingAndGlyphs" fill="#595959">28</text>
<path d="M430.35 383.04V385.97" stroke="#f00" stroke-opacity="0.6" stroke-width="1" fill="none"/>
<path d="M427.95 383.04H432.75" stroke="#f00" stroke-width="1" fill="none"/>
<path d="M427.95 385.97H432.75" stroke="#f00" stroke-width="1" fill="none"/>
<path d="M499.85 375.71V381.57" stroke="#f00" stroke-opacity="0.6" stroke-width="1" fill="none"/>
<path d="M497.45 375.71H502.25" stroke="#f00" stroke-width="1" fill="none"/>
<path d="M497.45 381.57H502.25" stroke="#f00" stroke-width="1" fill="none"/>
<path d="M569.35 367.50V375.12" stroke="#f00" stroke-opacity="0.6" stroke-width="1" fill="none"/>
<path d="M566.95 367.50H571.75" stroke="#f00" stroke-width="1" fill="none"/>
<path d="M566.95 375.12H571.75" stroke="#f00" stroke-width="1" fill="none"/>
<path d="M638.85 389.63V393.15" stroke="#f00" stroke-opacity="0.6" stroke-width="1" fill="none"/>
<path d="M636.45 389.63H641.25" stroke="#f00" stroke-width="1" fill="none"/>
<path d="M636.45 393.15H641.25" stroke="#f00" stroke-width="1" fill="none"/>
<polyline points="430.35,404.88 499.85,400.19 569.35,401.07 638.85,409.72" fill="none" stroke="#000" stroke-width="1.15" stroke-linejoin="round"/>
<polyline points="430.35,384.50 499.85,378.64 569.35,371.31 638.85,391.39" fill="none" stroke="#f00" stroke-width="1.15" stroke-linejoin="round"/>
<path d="M430.35 401.88L433.35 404.88L430.35 407.88L427.35 404.88Z" fill="#fff" stroke="#000" stroke-width="1.15" stroke-linejoin="round"/>
<path d="M499.85 397.19L502.85 400.19L499.85 403.19L496.85 400.19Z" fill="#fff" stroke="#000" stroke-width="1.15" stroke-linejoin="round"/>
<path d="M569.35 398.07L572.35 401.07L569.35 404.07L566.35 401.07Z" fill="#fff" stroke="#000" stroke-width="1.15" stroke-linejoin="round"/>
<path d="M638.85 406.72L641.85 409.72L638.85 412.72L635.85 409.72Z" fill="#fff" stroke="#000" stroke-width="1.15" stroke-linejoin="round"/>
<path d="M430.35 381.40L433.55 387.30L427.15 387.30Z" fill="#fff" stroke="#f00" stroke-width="1.0" stroke-linejoin="round"/>
<path d="M499.85 375.54L503.05 381.44L496.65 381.44Z" fill="#fff" stroke="#f00" stroke-width="1.0" stroke-linejoin="round"/>
<path d="M569.35 368.21L572.55 374.11L566.15 374.11Z" fill="#fff" stroke="#f00" stroke-width="1.0" stroke-linejoin="round"/>
<path d="M638.85 388.29L642.05 394.19L635.65 394.19Z" fill="#fff" stroke="#f00" stroke-width="1.0" stroke-linejoin="round"/>
<text transform="translate(367.80,345.70) rotate(-90)" text-anchor="middle" font-family='"Liberation Serif", serif' font-size="10.9" fill="#404040">Concentration (μg/kg)</text>
<text x="514.00" y="449.00" font-family='"Liberation Serif", serif' font-size="10.7" fill="#404040">Time (day)</text>
<text x="470.90" y="269.90" font-family='"Liberation Serif", serif' font-size="14.3" fill="#404040">Peach (8 g tree<tspan font-size="9.3" dy="-4.4">-1</tspan><tspan dx="0.7" dy="4.4">)</tspan></text>
<text transform="translate(399.00,277.00) scale(0.95,1)" font-family='"Liberation Serif", serif' font-size="15.3" fill="#000">D</text>
<line x1="596.1" y1="257.4" x2="616.0" y2="257.4" stroke="#000" stroke-width="1.4"/>
<path d="M606.05 254.40L609.05 257.40L606.05 260.40L603.05 257.40Z" fill="#fff" stroke="#000" stroke-width="1.15" stroke-linejoin="round"/>
<line x1="596.1" y1="273.5" x2="616.0" y2="273.5" stroke="#f00" stroke-width="1.4"/>
<path d="M606.05 270.40L609.25 276.30L602.85 276.30Z" fill="#fff" stroke="#f00" stroke-width="1.0" stroke-linejoin="round"/>
<text x="619.1" y="261.5" font-family='"Liberation Serif", serif' font-size="10.6" fill="#404040">Thiamethoxam</text>
<text x="621.1" y="276.8" font-family='"Liberation Serif", serif' font-size="10.6" fill="#404040">Clothianidin</text>
</svg>
</body></html>
